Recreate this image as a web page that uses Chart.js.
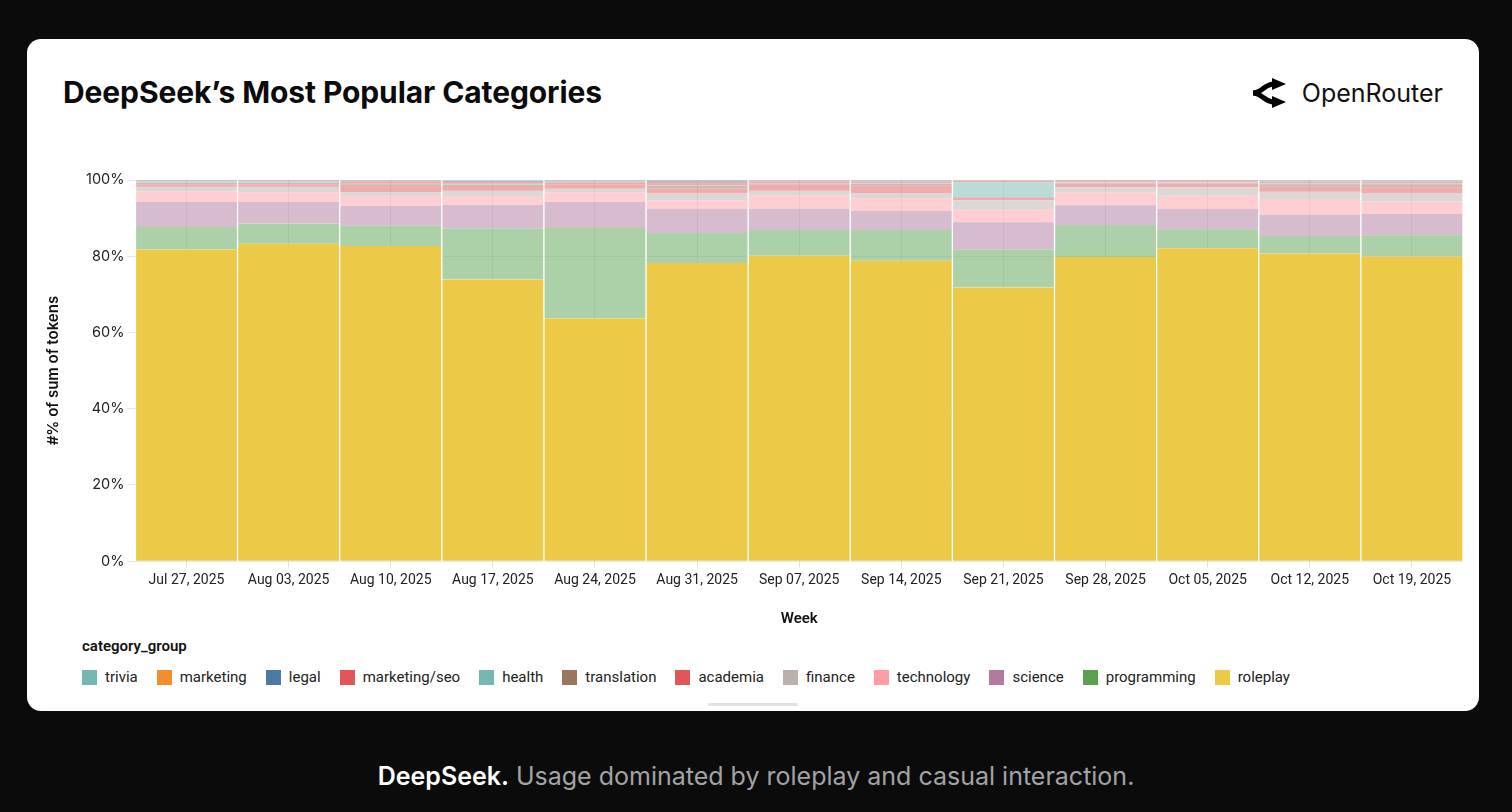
<!DOCTYPE html>
<html>
<head>
<meta charset="utf-8">
<title>DeepSeek's Most Popular Categories</title>
<script src="https://cdn.jsdelivr.net/npm/chart.js@4.4.1/dist/chart.umd.min.js"></script>
<style>
  html, body { margin: 0; padding: 0; }
  body { width: 1512px; height: 812px; background: #0b0b0c; position: relative; overflow: hidden; font-family: Inter, sans-serif; }
  #card { position: absolute; left: 27px; top: 39px; width: 1452px; height: 672px; background: #fff; border-radius: 14px; }
  #title { position: absolute; left: 36px; top: 35px; font-size: 30px; font-weight: 700; color: #0b0b0c; letter-spacing: -0.1px; }
  #brand { position: absolute; right: 36px; top: 39px; display: flex; align-items: center; gap: 14px; font-size: 25px; color: #111; }
  #chartBox { position: absolute; left: 13px; top: 121px; width: 1432px; height: 472px; }
  #legendTitle { position: absolute; left: 55px; top: 598px; font-family: Roboto, sans-serif; font-weight: 600; font-size: 15px; color: #111; }
  #legend { position: absolute; left: 55px; top: 629px; display: flex; gap: 19px; font-family: Roboto, sans-serif; font-size: 15px; color: #222; }
  #legend span.item { display: flex; align-items: center; gap: 8px; }
  #legend span.sw { width: 15px; height: 15px; display: inline-block; }
  #scroll { position: absolute; left: 681px; top: 664px; width: 90px; height: 3px; border-radius: 2px; background: #e2e2e2; }
  #caption { position: absolute; left: 0; width: 1512px; top: 761px; text-align: center; font-size: 25px; color: #a3a3a6; }
  #caption b { color: #fff; font-weight: 600; }
</style>
</head>
<body>
<div id="card">
  <div id="title">DeepSeek’s Most Popular Categories</div>
  <div id="brand">
    <svg width="38" height="30" viewBox="0 0 38 30">
      <path d="M3 15 C 12 15, 14 6, 24 6" stroke="#000" stroke-width="5" fill="none"/>
      <path d="M3 15 C 12 15, 14 24, 24 24" stroke="#000" stroke-width="5" fill="none"/>
      <path d="M22 0 L36 6 L22 12 Z" fill="#000"/>
      <path d="M22 18 L36 24 L22 30 Z" fill="#000"/>
    </svg>
    <span>OpenRouter</span>
  </div>
  <div id="chartBox"><canvas id="catChart"></canvas></div>
  <div id="legendTitle">category_group</div>
  <div id="legend"></div>
  <div id="scroll"></div>
</div>
<div id="caption"><b>DeepSeek.</b> Usage dominated by roleplay and casual interaction.</div>

<script>
// weeks on the x axis
const weeks = ["Jul 27, 2025", "Aug 03, 2025", "Aug 10, 2025", "Aug 17, 2025", "Aug 24, 2025", "Aug 31, 2025",
  "Sep 07, 2025", "Sep 14, 2025", "Sep 21, 2025", "Sep 28, 2025", "Oct 05, 2025", "Oct 12, 2025", "Oct 19, 2025"];

// share of tokens per category (%)
const roleplay    = [81.8, 83.3, 82.7, 73.9, 63.7, 78.2, 80.1, 78.8, 71.8, 79.8, 82.1, 80.7, 79.9];
const programming = [5.9, 5.3, 5.3, 13.4, 23.7, 7.9, 6.8, 8.1, 10.0, 8.4, 5.0, 4.6, 5.6];
const science     = [6.5, 5.6, 5.2, 6.2, 6.9, 6.3, 5.6, 5.0, 7.1, 5.2, 5.3, 5.6, 5.6];
const technology  = [2.8, 2.6, 2.4, 2.1, 2.5, 2.3, 3.4, 3.3, 3.3, 3.4, 3.5, 4.1, 3.3];
const finance     = [1.2, 1.4, 1.2, 1.6, 0.9, 1.8, 1.3, 1.4, 2.5, 1.3, 2.2, 1.9, 2.1];
const academia    = [0.7, 0.7, 1.6, 1.2, 1.2, 1.2, 1.7, 1.9, 0.6, 1.0, 1.0, 1.3, 1.6];
const translation = [0.3, 0.3, 0.5, 0.4, 0.3, 0.8, 0.2, 0.5, 0.2, 0.2, 0.2, 0.7, 0.8];
const health      = [0.2, 0.2, 0.1, 0.2, 0.1, 0.2, 0.1, 0.1, 3.9, 0.1, 0.1, 0.2, 0.2];
const marketingSeo = [0.2, 0.2, 0.7, 0.5, 0.3, 0.8, 0.5, 0.5, 0.4, 0.3, 0.3, 0.5, 0.5];
const legal       = [0.3, 0.3, 0.2, 0.3, 0.3, 0.4, 0.2, 0.3, 0.1, 0.2, 0.2, 0.3, 0.3];
const marketing   = [0.05, 0.05, 0.05, 0.1, 0.05, 0.05, 0.05, 0.05, 0.05, 0.05, 0.05, 0.05, 0.05];
const trivia      = [0.05, 0.05, 0.05, 0.1, 0.05, 0.05, 0.05, 0.05, 0.05, 0.05, 0.05, 0.05, 0.05];

const yTicks = [0, 20, 40, 60, 80, 100];

// stack order, bottom first
const series = [
  { label: "roleplay", data: roleplay, color: "#EDC948", alpha: 1 },
  { label: "programming", data: programming, color: "#59A14F", alpha: 0.5 },
  { label: "science", data: science, color: "#B07AA1", alpha: 0.5 },
  { label: "technology", data: technology, color: "#FF9DA7", alpha: 0.5 },
  { label: "finance", data: finance, color: "#BAB0AC", alpha: 0.5 },
  { label: "academia", data: academia, color: "#E15759", alpha: 0.5 },
  { label: "translation", data: translation, color: "#9C755F", alpha: 0.5 },
  { label: "health", data: health, color: "#76B7B2", alpha: 0.5 },
  { label: "marketing/seo", data: marketingSeo, color: "#E15759", alpha: 0.5 },
  { label: "legal", data: legal, color: "#4E79A7", alpha: 0.5 },
  { label: "marketing", data: marketing, color: "#F28E2B", alpha: 0.5 },
  { label: "trivia", data: trivia, color: "#76B7B2", alpha: 0.5 }
];

function withAlpha(hex, a) {
  const n = parseInt(hex.slice(1), 16);
  return `rgba(${(n >> 16) & 255}, ${(n >> 8) & 255}, ${n & 255}, ${a})`;
}

// html legend, top of stack first
const legendEl = document.getElementById("legend");
series.slice().reverse().forEach(s => {
  const item = document.createElement("span");
  item.className = "item";
  item.innerHTML = `<span class="sw" style="background:${s.color}"></span>${s.label}`;
  legendEl.appendChild(item);
});

const datasets = series.map(s => ({
  label: s.label,
  data: s.data,
  backgroundColor: withAlpha(s.color, s.alpha),
  borderColor: "#ffffff",
  borderWidth: { left: 1, right: 1, top: 0, bottom: 0 },
  borderSkipped: false,
  barPercentage: 1,
  categoryPercentage: 1
}));

new Chart(document.getElementById("catChart").getContext("2d"), {
  type: "bar",
  data: { labels: weeks, datasets },
  options: {
    responsive: true,
    maintainAspectRatio: false,
    animation: false,
    layout: { padding: { top: 20, right: 9, left: 0, bottom: 0 } },
    plugins: {
      legend: { display: false },
      tooltip: { enabled: false }
    },
    scales: {
      x: {
        stacked: true,
        grid: { offset: false, color: "rgba(0,0,0,0.08)", tickLength: 7, tickColor: "#e3e3e3" },
        border: { display: false },
        ticks: { color: "#222", font: { family: "Roboto", size: 14 }, padding: 4, maxRotation: 0 },
        title: { display: true, text: "Week", color: "#111", font: { family: "Roboto", size: 15, weight: "600" }, padding: { top: 17 } }
      },
      y: {
        stacked: true,
        min: 0,
        max: 100,
        afterBuildTicks: axis => { axis.ticks = yTicks.map(v => ({ value: v })); },
        grid: { color: "rgba(0,0,0,0.08)", tickLength: 8, tickColor: "#e3e3e3" },
        border: { display: false },
        ticks: { color: "#222", font: { family: "Inter", size: 14.5 }, padding: 3, callback: v => v + "%" },
        title: { display: true, text: "#% of sum of tokens", color: "#111", font: { family: "Inter", size: 15, weight: "600" }, padding: { bottom: 21 } }
      }
    }
  }
});
</script>
</body>
</html>
